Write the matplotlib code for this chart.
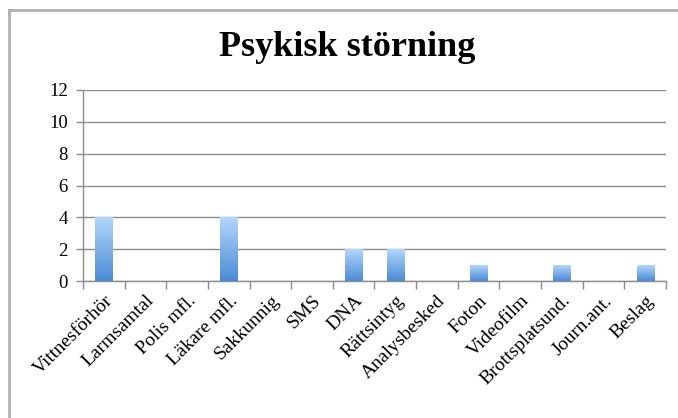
import matplotlib
matplotlib.use("Agg")
import matplotlib.pyplot as plt
import numpy as np
from matplotlib.colors import LinearSegmentedColormap
from matplotlib.lines import Line2D

categories = ["Vittnesförhör", "Larmsamtal", "Polis mfl.", "Läkare mfl.", "Sakkunnig",
              "SMS", "DNA", "Rättsintyg", "Analysbesked", "Foton", "Videofilm",
              "Brottsplatsund.", "Journ.ant.", "Beslag"]
values = [4, 0, 0, 4, 0, 0, 2, 2, 0, 1, 0, 1, 0, 1]
yticks = [0, 2, 4, 6, 8, 10, 12]
title = "Psykisk störning"

serif = ["Liberation Serif", "DejaVu Serif"]

fig = plt.figure(figsize=(6.78, 4.18), dpi=100)
fig.patch.set_facecolor("white")
ax = fig.add_axes([83/678, 1-281/418, (666-83)/678, (281-90)/418])

x = np.arange(len(categories))
bars = ax.bar(x, values, width=0.41, color="none", edgecolor="none", zorder=3)
cmap = LinearSegmentedColormap.from_list("g", ["#4a8bd6", "#b4d6fb"])
grad = np.linspace(0, 1, 256).reshape(-1, 1)
for b in bars:
    h = b.get_height()
    if h <= 0:
        continue
    x0 = b.get_x()
    ax.imshow(grad, extent=[x0, x0 + b.get_width(), 0, h], origin="lower",
              cmap=cmap, aspect="auto", zorder=3, interpolation="bicubic")

ax.set_xlim(-0.5, len(categories) - 0.5)
ax.set_ylim(0, 12)
ax.set_yticks(yticks)
ax.set_yticklabels([str(t) for t in yticks], fontfamily=serif, fontsize=13.5)
ax.yaxis.grid(True, color="#8c8c8c", linewidth=1.0, zorder=0)
ax.set_axisbelow(True)

ax.set_xticks(x)
ax.set_xticklabels(categories, rotation=45, ha="right", rotation_mode="anchor",
                   fontfamily=serif, fontsize=14)
ax.tick_params(axis="x", which="major", length=0, pad=8)
ax.set_xticks(np.arange(len(categories) + 1) - 0.5, minor=True)
ax.tick_params(axis="x", which="minor", length=6, color="#8c8c8c", width=1)
ax.tick_params(axis="y", length=5, color="#8c8c8c", width=1, pad=6)

for s in ["top", "right"]:
    ax.spines[s].set_visible(False)
for s in ["left", "bottom"]:
    ax.spines[s].set_color("#8c8c8c")
    ax.spines[s].set_linewidth(1.0)

fig.text(347/678, 1-48/418, title, ha="center", va="center",
         fontfamily=serif, fontsize=26, fontweight="bold")

# outer chart border
fig.add_artist(Line2D([9/678, 9/678], [0, 1-10/418], transform=fig.transFigure,
                      color="#b0b0b0", linewidth=2))
fig.add_artist(Line2D([9/678, 1], [1-10/418, 1-10/418], transform=fig.transFigure,
                      color="#b0b0b0", linewidth=2))

fig.savefig("out.png", dpi=100)
